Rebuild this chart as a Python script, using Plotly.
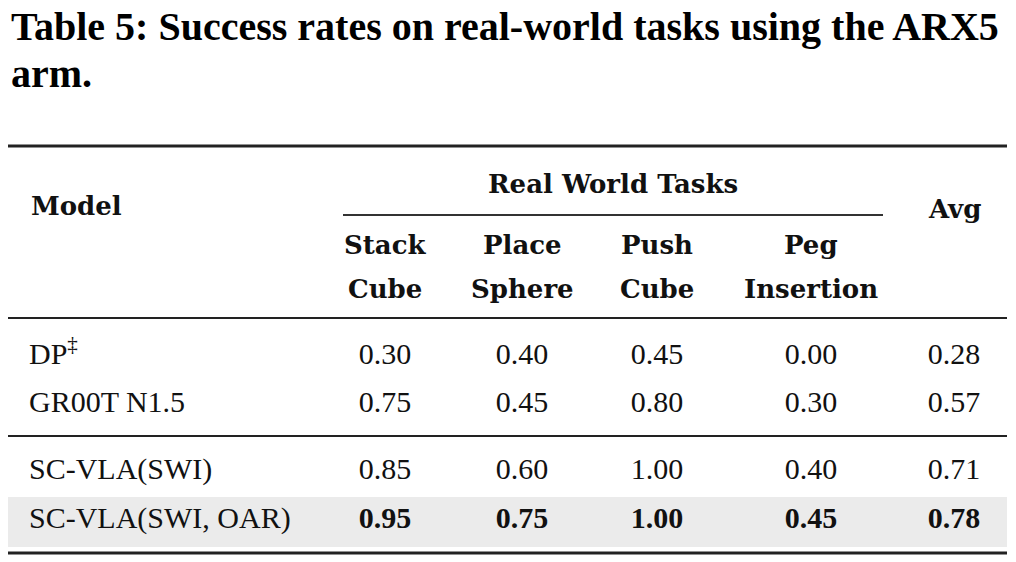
import plotly.graph_objects as go

# table content
title_lines = ["Table 5: Success rates on real-world tasks using the ARX5", "arm."]
group_header = "Real World Tasks"
task_names = [["Stack", "Cube"], ["Place", "Sphere"], ["Push", "Cube"], ["Peg", "Insertion"]]
models = ["DP<sup>‡</sup>", "GR00T N1.5", "SC-VLA(SWI)", "SC-VLA(SWI, OAR)"]
stack_cube = [0.30, 0.75, 0.85, 0.95]
place_sphere = [0.40, 0.45, 0.60, 0.75]
push_cube = [0.45, 0.80, 1.00, 1.00]
peg_insertion = [0.00, 0.30, 0.40, 0.45]
avg = [0.28, 0.57, 0.71, 0.78]
bold_row = [False, False, False, True]

# layout (page pixels; page body has an 8px margin, axes ranges compensate)
W, H = 1016, 562
OFF = 8
col_x = [385, 522, 657, 811, 954]
row_y = [356, 404, 471, 520]
model_x = 29
body_font = "Liberation Serif"
head_font = "DejaVu Serif"
fs = 30
hfs = 26
ink = "#111111"

fig = go.Figure()

# shaded row
fig.add_shape(type="rect", x0=8, x1=1007, y0=497, y1=547,
              fillcolor="#ebebeb", line_width=0, layer="below")

# rules
for y, w in [(146, 3), (318, 2.2), (436, 2.2), (553, 3)]:
    fig.add_shape(type="line", x0=8, x1=1007, y0=y, y1=y, line=dict(color="#222222", width=w))
fig.add_shape(type="line", x0=343, x1=883, y0=215, y1=215, line=dict(color="#333333", width=1.8))

# body cells
columns = [stack_cube, place_sphere, push_cube, peg_insertion, avg]
for col, cx in zip(columns, col_x):
    txt = [f"<b>{v:.2f}</b>" if b else f"{v:.2f}" for v, b in zip(col, bold_row)]
    fig.add_trace(go.Scatter(x=[cx] * len(col), y=row_y, mode="text", text=txt,
                             textposition="middle center",
                             textfont=dict(family=body_font, size=fs, color=ink),
                             hoverinfo="skip", showlegend=False))

fig.add_trace(go.Scatter(x=[model_x] * len(models), y=row_y, mode="text", text=models,
                         textposition="middle right",
                         textfont=dict(family=body_font, size=fs, color=ink),
                         hoverinfo="skip", showlegend=False))

# header
hdr = dict(family=head_font, size=hfs, color=ink)
fig.add_annotation(x=model_x, y=206, text="<b>Model</b>", xanchor="left", yanchor="middle",
                   showarrow=False, font=hdr)
fig.add_annotation(x=613, y=184, text=f"<b>{group_header}</b>", xanchor="center", yanchor="middle",
                   showarrow=False, font=hdr)
fig.add_annotation(x=col_x[4], y=209, text="<b>Avg</b>", xanchor="center", yanchor="middle",
                   showarrow=False, font=hdr)
for (l1, l2), cx in zip(task_names, col_x):
    fig.add_annotation(x=cx, y=245, text=f"<b>{l1}</b>", xanchor="center", yanchor="middle",
                       showarrow=False, font=hdr)
    fig.add_annotation(x=cx, y=289, text=f"<b>{l2}</b>", xanchor="center", yanchor="middle",
                       showarrow=False, font=hdr)

# caption
for i, line in enumerate(title_lines):
    fig.add_annotation(x=9, y=26 + 47 * i, text=f"<b>{line}</b>", xanchor="left", yanchor="middle",
                       showarrow=False, font=dict(family=body_font, size=40, color="#000000"))

fig.update_xaxes(range=[OFF, W + OFF], visible=False, fixedrange=True)
fig.update_yaxes(range=[H + OFF, OFF], visible=False, fixedrange=True)
fig.update_layout(width=W, height=H, margin=dict(l=0, r=0, t=0, b=0),
                  plot_bgcolor="white", paper_bgcolor="white")

fig.write_html("out.html")
